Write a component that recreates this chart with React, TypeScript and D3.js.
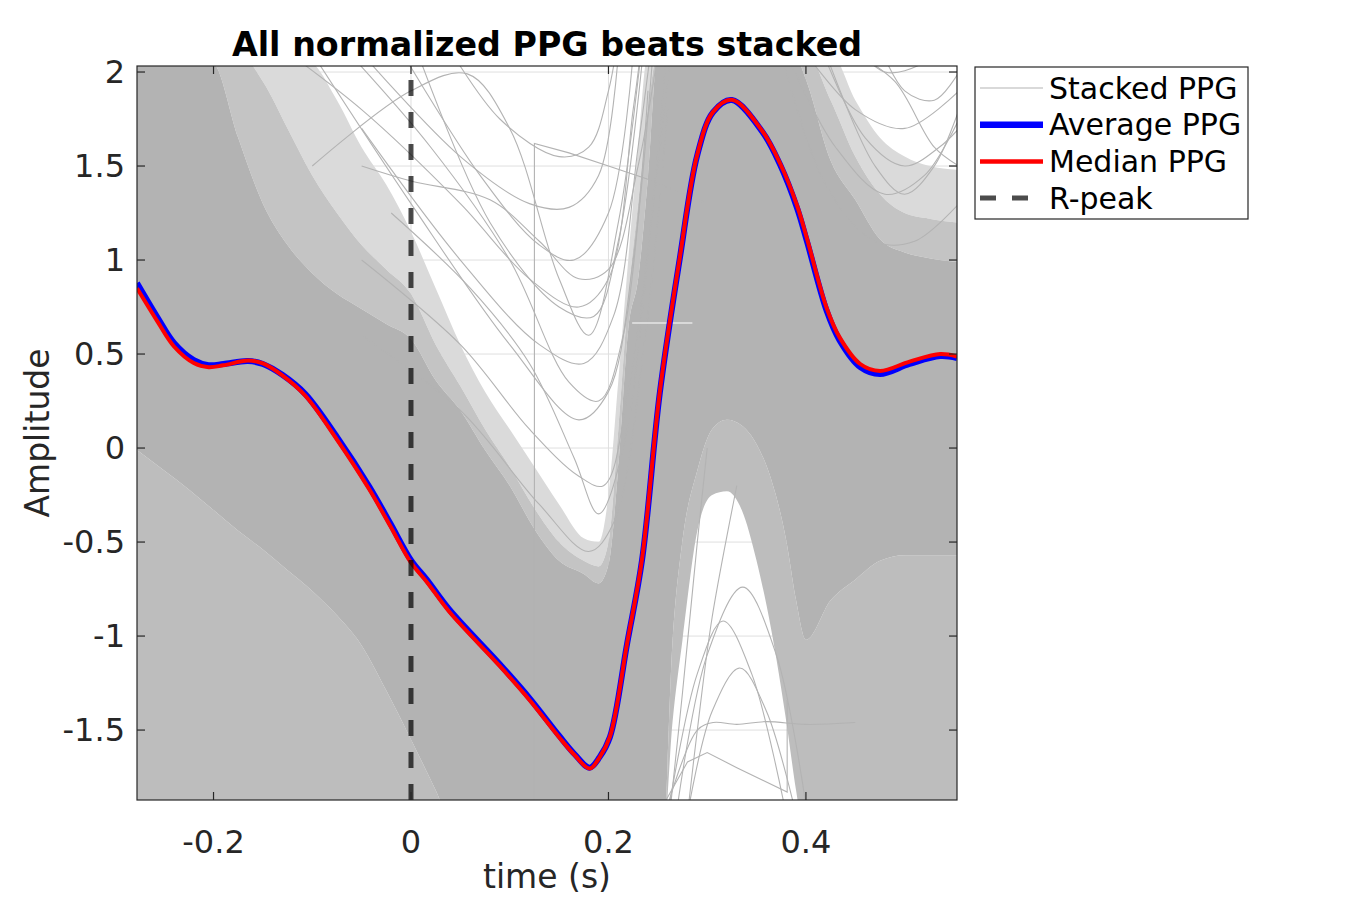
import React from "react";
import * as d3 from "d3";

// ---------- data ----------
const xDomain = [-0.2775, 0.553];
const yDomain = [-1.872, 2.032];
const xTicks = [-0.2, 0, 0.2, 0.4];
const yTicks = [-1.5, -1, -0.5, 0, 0.5, 1, 1.5, 2];
const rPeakTime = 0;

// envelope of the stacked beats (dense core, medium and light fringes)
const envTime = [-0.2775, -0.25, -0.225, -0.2, -0.175, -0.15, -0.125, -0.1, -0.075, -0.05, -0.025, 0, 0.025, 0.05, 0.075, 0.1, 0.125, 0.15, 0.175, 0.19, 0.2, 0.21, 0.22, 0.23, 0.24, 0.25, 0.255, 0.265, 0.275, 0.29, 0.305, 0.32, 0.335, 0.35, 0.365, 0.38, 0.39, 0.4, 0.425, 0.45, 0.475, 0.5, 0.525, 0.553];
const coreUpper = [2.1, 2.1, 2.1, 2.05, 1.65, 1.3, 1.08, 0.93, 0.82, 0.74, 0.66, 0.58, 0.36, 0.2, -0.01, -0.2, -0.43, -0.6, -0.67, -0.72, -0.62, -0.1, 0.63, 0.9, 1.44, 2.1, 2.1, 2.1, 2.1, 2.1, 2.1, 2.1, 2.1, 2.1, 2.1, 2.1, 2.08, 1.96, 1.53, 1.32, 1.11, 1.04, 1.01, 0.99];
const midUpper = [2.1, 2.1, 2.1, 2.1, 2.1, 1.95, 1.7, 1.45, 1.25, 1.08, 0.95, 0.82, 0.55, 0.33, 0.1, -0.1, -0.32, -0.5, -0.6, -0.63, -0.5, 0.1, 0.8, 1.3, 1.8, 2.1, 2.1, 2.1, 2.1, 2.1, 2.1, 2.1, 2.1, 2.1, 2.1, 2.1, 2.1, 2.1, 1.85, 1.55, 1.35, 1.25, 1.22, 1.2];
const fringeUpper = [2.1, 2.1, 2.1, 2.1, 2.1, 2.1, 2.1, 2.05, 1.85, 1.6, 1.4, 1.15, 0.85, 0.55, 0.3, 0.1, -0.1, -0.3, -0.48, -0.5, -0.25, 0.36, 1.0, 1.6, 2.1, 2.1, 2.1, 2.1, 2.1, 2.1, 2.1, 2.1, 2.1, 2.1, 2.1, 2.1, 2.1, 2.1, 2.1, 1.85, 1.65, 1.55, 1.5, 1.48];
const coreLower = [-0.01, -0.12, -0.22, -0.33, -0.44, -0.54, -0.65, -0.76, -0.89, -1.05, -1.29, -1.55, -1.82, -2.1, -2.1, -2.1, -2.1, -2.1, -2.1, -2.1, -2.1, -2.1, -2.1, -2.1, -2.1, -2.1, -2.1, -1.02, -0.49, -0.12, 0.1, 0.15, 0.12, 0.02, -0.17, -0.49, -0.81, -1.02, -0.81, -0.7, -0.6, -0.57, -0.57, -0.57];
const fringeLower = [-2.1, -2.1, -2.1, -2.1, -2.1, -2.1, -2.1, -2.1, -2.1, -2.1, -2.1, -2.1, -2.1, -2.1, -2.1, -2.1, -2.1, -2.1, -2.1, -2.1, -2.1, -2.1, -2.1, -2.1, -2.1, -2.1, -2.1, -1.45, -1.02, -0.44, -0.25, -0.23, -0.33, -0.6, -0.97, -1.45, -1.82, -2.1, -2.1, -2.1, -2.1, -2.1, -2.1, -2.1];

// individual stacked beats visible in the sparse areas: [time, amplitude]
const beatValley1 = [[-0.05, 2.1], [0.05, 1.55], [0.12, 1.3], [0.16, 1.28], [0.19, 1.45], [0.21, 2.1]];
const beatValley2 = [[0.0, 2.2], [0.08, 1.2], [0.15, 0.75], [0.185, 0.7], [0.21, 1.1], [0.235, 2.1]];
const beatValley3 = [[-0.1, 2.1], [0.0, 1.3], [0.1, 0.55], [0.17, 0.15], [0.2, 0.3], [0.225, 1.0], [0.245, 2.1]];
const beatValley4 = [[-0.05, 1.7], [0.05, 1.0], [0.13, 0.55], [0.175, 0.45], [0.205, 0.7], [0.23, 1.6], [0.245, 2.2]];
const beatValley5 = [[-0.1, 1.5], [0.0, 1.9], [0.057, 1.99], [0.1, 1.7], [0.15, 0.9], [0.18, 0.6], [0.21, 1.2], [0.235, 2.2]];
const beatValley6 = [[-0.05, 1.5], [0.0, 1.42], [0.08, 1.32], [0.13, 1.1], [0.17, 0.9], [0.2, 0.95], [0.23, 1.5], [0.25, 2.1]];
const beatValley7 = [[-0.02, 2.2], [0.07, 1.45], [0.13, 1.08], [0.165, 1.0], [0.2, 1.25], [0.225, 2.1]];
const beatValley8 = [[-0.05, 1.0], [0.05, 0.55], [0.12, 0.1], [0.17, -0.15], [0.195, -0.2], [0.22, 0.3], [0.25, 1.5], [0.265, 2.2]];
const beatValley9 = [[-0.05, 0.6], [0.05, 0.2], [0.13, -0.3], [0.18, -0.55], [0.205, -0.4], [0.235, 0.5], [0.26, 1.8]];
const beatValley10 = [[-0.15, 2.2], [-0.05, 1.8], [0.05, 1.3], [0.12, 0.9], [0.17, 0.75], [0.2, 0.9], [0.225, 1.8], [0.235, 2.2]];
const beatValley11 = [[0.03, 2.2], [0.09, 1.75], [0.15, 1.55], [0.18, 1.6], [0.2, 1.9], [0.21, 2.2]];
const beatValley12 = [[-0.08, 2.2], [0.02, 1.6], [0.1, 1.0], [0.16, 0.35], [0.19, 0.25], [0.215, 0.6], [0.24, 1.9]];
const beatValley13 = [[-0.02, 1.25], [0.06, 0.85], [0.12, 0.45], [0.165, -0.05], [0.19, -0.35], [0.215, 0.0], [0.245, 1.3], [0.26, 2.2]];
const beatJump = [[0.125, -2.0], [0.125, 1.62], [0.16, 1.57], [0.2, 1.5], [0.24, 1.43], [0.3, 1.3]];
const beatRight1 = [[0.38, 2.1], [0.43, 1.6], [0.48, 1.35], [0.52, 1.45], [0.555, 1.75]];
const beatRight2 = [[0.4, 2.1], [0.45, 1.8], [0.5, 1.7], [0.555, 1.9]];
const beatRight3 = [[0.37, 2.2], [0.42, 1.4], [0.47, 1.1], [0.51, 1.1], [0.555, 1.3]];
const beatRight4 = [[0.45, 2.1], [0.49, 1.95], [0.53, 1.6], [0.555, 1.5]];
const beatRight5 = [[0.42, 2.1], [0.47, 1.5], [0.5, 1.35], [0.53, 1.5], [0.555, 1.8]];
const beatRight6 = [[0.44, 2.2], [0.48, 2.0], [0.52, 2.05], [0.555, 2.2]];
const beatRight7 = [[0.41, 2.2], [0.46, 1.65], [0.5, 1.5], [0.535, 1.6], [0.555, 1.7]];
const beatRight8 = [[0.47, 2.2], [0.5, 1.9], [0.53, 1.85], [0.555, 2.0]];
const beatHill1 = [[0.27, -1.9], [0.3, -1.1], [0.336, -0.74], [0.37, -1.1], [0.4, -1.9]];
const beatHill2 = [[0.26, -1.95], [0.29, -1.2], [0.316, -0.92], [0.345, -1.2], [0.38, -1.95]];
const beatHill3 = [[0.28, -1.95], [0.305, -1.4], [0.333, -1.17], [0.36, -1.4], [0.39, -1.95]];
const beatHill4 = [[0.26, -1.9], [0.29, -1.5], [0.306, -1.46], [0.33, -1.47], [0.36, -1.455], [0.4, -1.47], [0.45, -1.46]];
const beatHill6 = [[0.262, -1.95], [0.275, -1.3], [0.29, -0.5], [0.3, 0.0]];
const beatHill7 = [[0.28, -1.95], [0.29, -1.5], [0.305, -0.9], [0.33, -0.2]];
const beatHill5 = [[0.25, -1.95], [0.28, -1.67], [0.3, -1.62], [0.33, -1.7], [0.381, -1.83], [0.381, -1.34]];
const smoothBeats = [beatValley1, beatValley2, beatValley3, beatValley4, beatValley5, beatValley6, beatValley7, beatValley8, beatValley9, beatValley10, beatValley11, beatValley12, beatValley13, beatRight1, beatRight2, beatRight3, beatRight4, beatRight5, beatRight6, beatRight7, beatRight8, beatHill1, beatHill2, beatHill3, beatHill4, beatHill6, beatHill7];
const jumpBeats = [beatJump, beatHill5];
const gapSegment = [[0.224, 0.665], [0.285, 0.665]];

// average and median PPG
const meanTime = [-0.2775, -0.257, -0.24, -0.22, -0.205, -0.19, -0.165, -0.15, -0.13, -0.107, -0.075, -0.042, -0.021, 0, 0.016, 0.039, 0.09, 0.12, 0.15, 0.166, 0.181, 0.191, 0.2015, 0.219, 0.234, 0.252, 0.272, 0.29, 0.306, 0.325, 0.356, 0.374, 0.391, 0.401, 0.421, 0.434, 0.455, 0.475, 0.505, 0.536, 0.553];
const averagePPG = [0.878, 0.697, 0.559, 0.468, 0.441, 0.447, 0.463, 0.447, 0.388, 0.287, 0.059, -0.207, -0.40, -0.596, -0.70, -0.86, -1.15, -1.33, -1.53, -1.63, -1.70, -1.644, -1.537, -1.037, -0.596, 0.293, 1.0, 1.559, 1.787, 1.851, 1.681, 1.505, 1.277, 1.1, 0.73, 0.574, 0.431, 0.394, 0.447, 0.489, 0.479];
const medianPPG = [0.85, 0.675, 0.54, 0.452, 0.43, 0.44, 0.465, 0.45, 0.385, 0.278, 0.045, -0.222, -0.415, -0.61, -0.712, -0.872, -1.16, -1.34, -1.538, -1.635, -1.705, -1.645, -1.535, -1.035, -0.59, 0.3, 1.005, 1.562, 1.788, 1.852, 1.685, 1.512, 1.29, 1.115, 0.745, 0.59, 0.447, 0.41, 0.46, 0.5, 0.487];

const legendItems = ["Stacked PPG", "Average PPG", "Median PPG", "R-peak"];

// ---------- layout ----------
const W = 1350;
const H = 900;
const P = { left: 137, right: 957, top: 66, bottom: 800 };
const FONT = "'DejaVu Sans', sans-serif";
const AX = "#262626";
const BEAT = "#b3b3b3";

export default function App() {
  const x = d3.scaleLinear().domain(xDomain).range([P.left, P.right]);
  const y = d3.scaleLinear().domain(yDomain).range([P.bottom, P.top]);

  const band = (lo: number[], hi: number[]) =>
    d3
      .area<number>()
      .x((_, i) => x(envTime[i]))
      .y0((_, i) => y(lo[i]))
      .y1((_, i) => y(Math.max(hi[i], lo[i])))
      .curve(d3.curveMonotoneX)(envTime) || "";

  const smooth = d3
    .line<number[]>()
    .x((d) => x(d[0]))
    .y((d) => y(d[1]))
    .curve(d3.curveCatmullRom.alpha(0.5));
  const straight = d3
    .line<number[]>()
    .x((d) => x(d[0]))
    .y((d) => y(d[1]));

  const ppgLine = (vals: number[]) =>
    d3
      .line<number>()
      .x((_, i) => x(meanTime[i]))
      .y((d) => y(d))
      .curve(d3.curveCatmullRom.alpha(0.5))(vals) || "";

  const fmt = (v: number) => String(v);
  const tickLen = 8;
  const legX = 975;
  const legY = 67;
  const legW = 273;
  const legH = 152;
  const rowY = (i: number) => legY + 21 + i * 36.7;

  return (
    <svg
      width={W}
      height={H}
      style={{ position: "absolute", left: 0, top: 0, background: "#fff" }}
      fontFamily={FONT}
    >
      <defs>
        <clipPath id="plotclip">
          <rect x={P.left} y={P.top} width={P.right - P.left} height={P.bottom - P.top} />
        </clipPath>
      </defs>
      <rect x={0} y={0} width={W} height={H} fill="#fff" />

      {/* grid */}
      <g stroke="#dfdfdf" strokeWidth={1}>
        {xTicks.map((t) => (
          <line key={"gx" + t} x1={x(t)} x2={x(t)} y1={P.top} y2={P.bottom} />
        ))}
        {yTicks.map((t) => (
          <line key={"gy" + t} x1={P.left} x2={P.right} y1={y(t)} y2={y(t)} />
        ))}
      </g>

      <g clipPath="url(#plotclip)">
        {/* stacked beats: fringes and dense core */}
        <path d={band(midUpper, fringeUpper)} fill="#dadada" />
        <path d={band(coreUpper, midUpper)} fill="#c4c4c4" />
        <path d={band(fringeLower, coreLower)} fill="#bdbdbd" />
        <path d={band(coreLower, coreUpper)} fill={BEAT} />
        {smoothBeats.map((b, i) => (
          <path key={"sb" + i} d={smooth(b) || ""} fill="none" stroke={BEAT} strokeWidth={1.1} />
        ))}
        {jumpBeats.map((b, i) => (
          <path key={"jb" + i} d={straight(b) || ""} fill="none" stroke={BEAT} strokeWidth={1.1} />
        ))}
        <path d={straight(gapSegment) || ""} stroke="#fff" strokeWidth={1.2} />

        {/* average and median */}
        <path d={ppgLine(averagePPG)} fill="none" stroke="#0000ff" strokeWidth={6} strokeLinejoin="round" />
        <path d={ppgLine(medianPPG)} fill="none" stroke="#ff0000" strokeWidth={4} strokeLinejoin="round" />

        {/* R-peak */}
        <line
          x1={x(rPeakTime)}
          x2={x(rPeakTime)}
          y1={P.bottom}
          y2={P.top}
          stroke="#000"
          strokeOpacity={0.7}
          strokeWidth={5}
          strokeDasharray="16,16"
        />
      </g>

      {/* axes box */}
      <rect
        x={P.left}
        y={P.top}
        width={P.right - P.left}
        height={P.bottom - P.top}
        fill="none"
        stroke={AX}
        strokeWidth={1.2}
      />
      <g stroke={AX} strokeWidth={1.2}>
        {xTicks.map((t) => (
          <g key={"tx" + t}>
            <line x1={x(t)} x2={x(t)} y1={P.bottom} y2={P.bottom - tickLen} />
            <line x1={x(t)} x2={x(t)} y1={P.top} y2={P.top + tickLen} />
          </g>
        ))}
        {yTicks.map((t) => (
          <g key={"ty" + t}>
            <line x1={P.left} x2={P.left + tickLen} y1={y(t)} y2={y(t)} />
            <line x1={P.right} x2={P.right - tickLen} y1={y(t)} y2={y(t)} />
          </g>
        ))}
      </g>

      {/* tick labels */}
      <g fill={AX} fontSize={32}>
        {xTicks.map((t) => (
          <text key={"lx" + t} x={x(t)} y={P.bottom + 42} textAnchor="middle" dy="0.35em">
            {fmt(t)}
          </text>
        ))}
        {yTicks.map((t) => (
          <text key={"ly" + t} x={P.left - 12} y={y(t)} textAnchor="end" dy="0.35em">
            {fmt(t)}
          </text>
        ))}
      </g>

      {/* axis labels and title */}
      <text x={(P.left + P.right) / 2} y={876} textAnchor="middle" dy="0.35em" fontSize={33} fill={AX}>
        time (s)
      </text>
      <text
        transform={`translate(37, ${(P.top + P.bottom) / 2}) rotate(-90)`}
        textAnchor="middle"
        dy="0.35em"
        fontSize={33}
        fill={AX}
      >
        Amplitude
      </text>
      <text
        x={(P.left + P.right) / 2}
        y={44}
        textAnchor="middle"
        dy="0.35em"
        fontSize={33.3}
        fontWeight="bold"
        fill="#000"
      >
        All normalized PPG beats stacked
      </text>

      {/* legend */}
      <rect x={legX} y={legY} width={legW} height={legH} fill="#fff" stroke={AX} strokeWidth={1.2} />
      <line x1={980} x2={1043} y1={rowY(0)} y2={rowY(0)} stroke={BEAT} strokeWidth={1} />
      <line x1={980} x2={1043} y1={rowY(1)} y2={rowY(1)} stroke="#0000ff" strokeWidth={6.5} />
      <line x1={980} x2={1043} y1={rowY(2)} y2={rowY(2)} stroke="#ff0000" strokeWidth={4.5} />
      <line
        x1={980}
        x2={1043}
        y1={rowY(3)}
        y2={rowY(3)}
        stroke="#000"
        strokeOpacity={0.7}
        strokeWidth={5}
        strokeDasharray="16,16"
      />
      {legendItems.map((s, i) => (
        <text key={s} x={1049} y={rowY(i)} dy="0.35em" fontSize={30} fill="#000">
          {s}
        </text>
      ))}
    </svg>
  );
}
